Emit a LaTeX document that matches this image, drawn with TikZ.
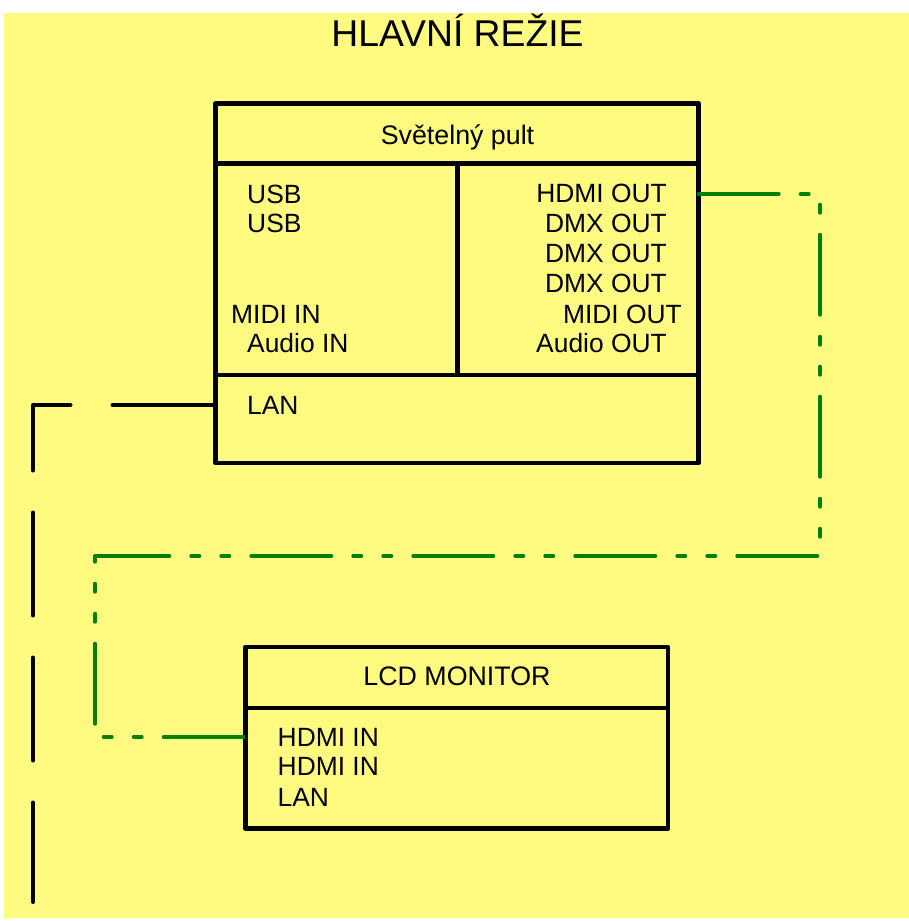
\documentclass[tikz,border=0pt]{standalone}
\usepackage{fontspec}
\setmainfont{Liberation Sans}
\definecolor{RoomYellow}{RGB}{255, 251, 128}
\definecolor{VideoGreen}{RGB}{0, 128, 0}
\usepackage{tikz}
\usetikzlibrary{positioning}

\begin{document}
\begin{tikzpicture}[x=1pt, y=-1pt,
  frame/.style={draw=black, line width=4.6pt, line join=round},
  box/.style={frame, rectangle, inner sep=0pt},
  txt/.style={font=\fontsize{26.4}{30}\selectfont, inner sep=0pt},
  ltxt/.style={txt, anchor=base west},
  rtxt/.style={txt, anchor=base east},
  ctxt/.style={txt, font=\fontsize{26.8}{30}\selectfont, anchor=base},
  lanline/.style={draw=black, line width=4pt, line cap=round, line join=round, dash pattern=on 103pt off 42pt},
  hdmiline/.style={draw=VideoGreen, line width=4pt, line cap=round, line join=round, dash pattern=on 80pt off 22pt on 8pt off 22pt on 8pt off 22pt}]
\useasboundingbox (0,0) rectangle (909,921);
\fill[RoomYellow] (4,13) rectangle (909,918);
\node[txt, font=\fontsize{37.3}{42}\selectfont, anchor=base] (room) at (457.5,46.5) {HLAVNÍ REŽIE};
% light desk
\node[box, minimum width=483.2pt, minimum height=359.5pt] (pult) at (457.1,283.25) {};
\draw[frame] (215.5,163.3) -- (698.7,163.3); \draw[frame] (215.5,375) -- (698.7,375); \draw[frame] (457.2,163.3) -- (457.2,375);
\node[ctxt] (pultname) at (457.5,144) {Světelný pult};
\node[ltxt] (usb1) at (247,203) {USB};
\node[ltxt] (usb2) at (247,232.5) {USB};
\node[ltxt] (midiin) at (231,323) {MIDI IN};
\node[ltxt] (audioin) at (247,352.5) {Audio IN};
\node[ltxt] (lan1) at (247,414) {LAN};
\node[rtxt] (hdmiout) at (667,202.5) {HDMI OUT};
\node[rtxt] (dmx1) at (667,232.5) {DMX OUT};
\node[rtxt] (dmx2) at (667,262.5) {DMX OUT};
\node[rtxt] (dmx3) at (667,292.5) {DMX OUT};
\node[rtxt] (midiout) at (682,323) {MIDI OUT};
\node[rtxt] (audioout) at (667,352.5) {Audio OUT};
% monitor
\node[box, minimum width=422.5pt, minimum height=181.5pt] (lcd) at (456.75,737.75) {};
\draw[frame] (245.5,708) -- (668,708);
\node[ctxt] (lcdname) at (457,685.5) {LCD MONITOR};
\node[ltxt] (hdmiin1) at (277.5,746) {HDMI IN};
\node[ltxt] (hdmiin2) at (277.5,775.5) {HDMI IN};
\node[ltxt] (lan2) at (277.5,806) {LAN};
% ports and cables
\coordinate (lanport) at (215.5,405); \coordinate (lanend) at (33,902);
\coordinate (hdmiport) at (698.7,194); \coordinate (lcdport) at (245.5,737);
\draw[lanline] (lanport) -- (33,405) -- (lanend);
\draw[hdmiline] (hdmiport) -- (820,194) -- (820,556) -- (95,556) -- (95,737) -- (lcdport);
\end{tikzpicture}
\end{document}
